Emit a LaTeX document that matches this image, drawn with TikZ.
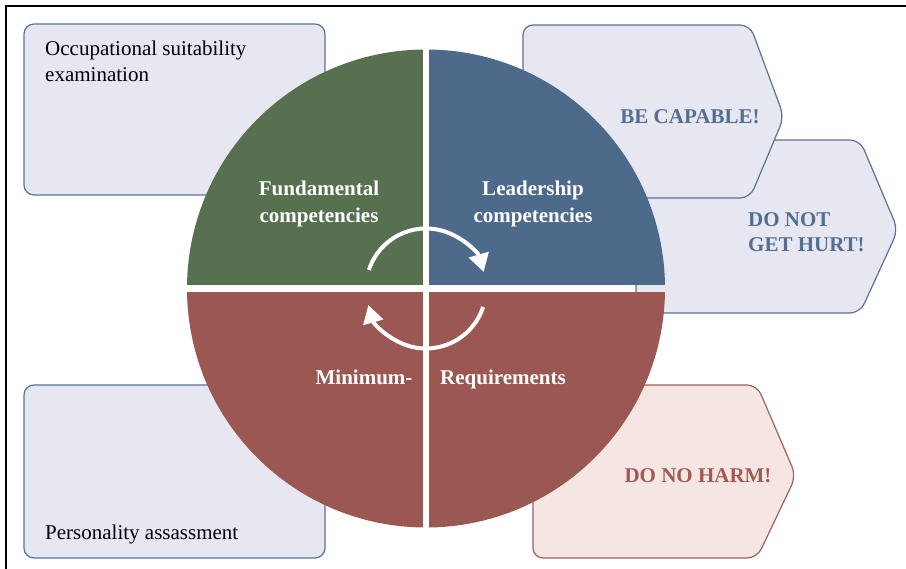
\documentclass[tikz,border=0pt]{standalone}
\usepackage{fontspec}
\setmainfont{Liberation Serif}
\usepackage{tikz}
\usetikzlibrary{positioning,arrows.meta}
\pgfdeclarelayer{boxlayer}
\pgfdeclarelayer{textlayer}
\pgfsetlayers{boxlayer,main,textlayer}
\definecolor{quartergreen}{RGB}{86,112,80}
\definecolor{quarterblue}{RGB}{77,106,138}
\definecolor{quarterred}{RGB}{155,88,83}
\definecolor{boxfill}{RGB}{231,231,242}
\definecolor{boxline}{RGB}{88,115,150}
\definecolor{harmfill}{RGB}{246,230,227}
\definecolor{harmline}{RGB}{163,96,91}
\definecolor{bluetext}{RGB}{84,110,145}
\definecolor{redtext}{RGB}{160,90,85}
\tikzstyle{side_box}=[draw=boxline, fill=boxfill, line width=1.2pt, rounded corners=10pt]
\tikzstyle{harm_box}=[draw=harmline, fill=harmfill, line width=1.2pt, rounded corners=10pt]
\tikzstyle{plain_text}=[font=\fontsize{21}{26}\selectfont, inner sep=0pt, align=left]
\tikzstyle{quarter_text}=[font=\bfseries\fontsize{21}{27}\selectfont, text=white, inner sep=0pt, align=center]
\tikzstyle{call_text}=[font=\bfseries\fontsize{21}{25}\selectfont, inner sep=0pt, align=left]
\tikzstyle{cycle_edge}=[draw=white, line width=4pt, -{Triangle[length=18pt,width=20pt]}]

\begin{document}
\begin{tikzpicture}[x=1pt,y=1pt]
    \useasboundingbox (0,0) rectangle (906,569);
    \draw[line width=1.5pt] (6,0) -- (6,563) -- (906,563);

    % boxes behind the circle
    \begin{pgfonlayer}{boxlayer}
        \draw[style={side_box}] (24,374) rectangle (325,545);
        \draw[style={side_box}] (24,11) rectangle (325,184);
        \draw[style={side_box}] (700,429) -- (860,429) -- (898,339) -- (860,256) -- (636,256) -- (636,429) -- cycle;
        \draw[style={side_box}] (600,544) -- (750,544) -- (784,452) -- (750,371) -- (523,371) -- (523,544) -- cycle;
        \draw[style={harm_box}] (650,184) -- (757,184) -- (796,93) -- (757,11) -- (533,11) -- (533,184) -- cycle;
    \end{pgfonlayer}

    % the four quarters
    \coordinate (9) at (426,280.5);
    \begin{scope}
        \clip (9) circle[radius=239];
        \fill[quartergreen] (187,283.75) rectangle (422.75,520);
        \fill[quarterblue] (429.25,283.75) rectangle (666,520);
        \fill[quarterred] (187,277.25) rectangle (422.75,41);
        \fill[quarterred] (429.25,277.25) rectangle (666,41);
    \end{scope}

    \begin{pgfonlayer}{textlayer}
        \node[plain_text, anchor=north west] (0) at (45,528) {Occupational suitability\\examination};
        \node[plain_text, anchor=base west] (1) at (45,29) {Personality assassment};
        \node[quarter_text] (2) at (319,365) {Fundamental\\competencies};
        \node[quarter_text] (3) at (533,365) {Leadership\\competencies};
        \node[quarter_text, anchor=base] (4) at (364,184) {Minimum-};
        \node[quarter_text, anchor=base] (5) at (503,184) {Requirements};
        \node[call_text, text=bluetext] (6) at (690,452) {BE CAPABLE!};
        \node[call_text, text=bluetext, anchor=west] (7) at (748,337) {DO NOT\\GET HURT!};
        \node[call_text, text=redtext] (8) at (698,93) {DO NO HARM!};
        \draw[style={cycle_edge}] ([shift={(162:60)}]9) arc[start angle=162, end angle=16, radius=60];
        \draw[style={cycle_edge}] ([shift={(-18:60)}]9) arc[start angle=-18, end angle=-164, radius=60];
    \end{pgfonlayer}
\end{tikzpicture}
\end{document}
